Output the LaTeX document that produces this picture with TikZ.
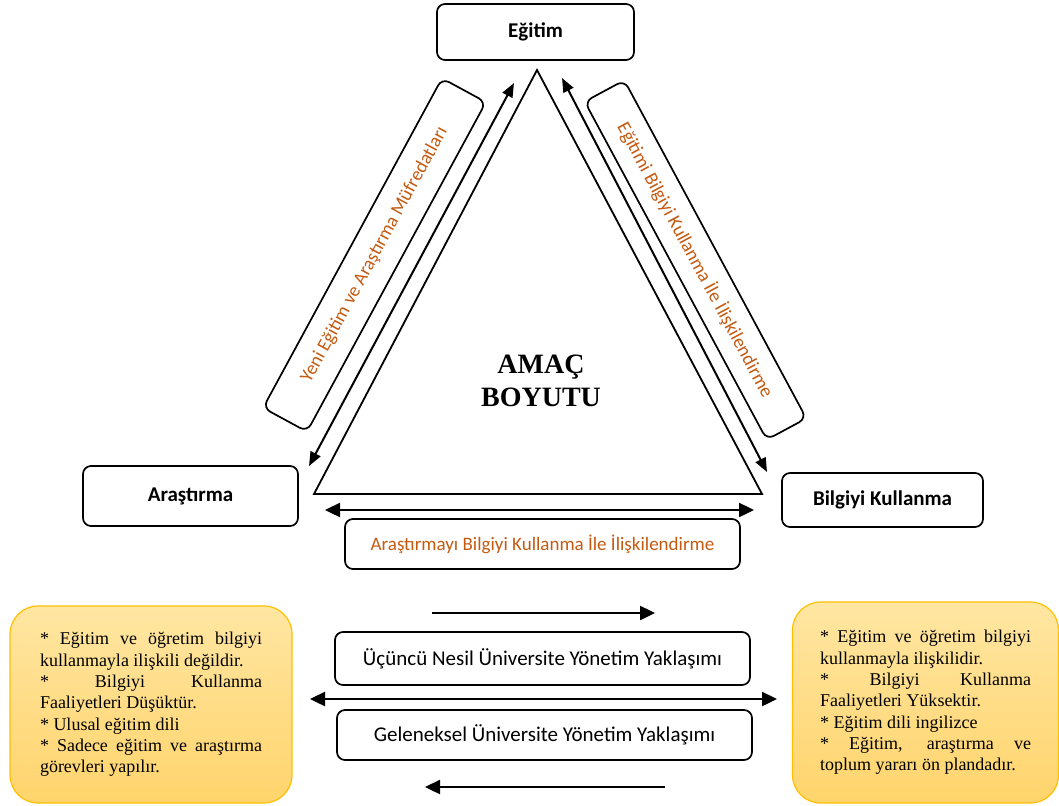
\documentclass[tikz,border=0pt]{standalone}
\usepackage{fontspec}
\setmainfont{Liberation Serif}
\newfontfamily\calibrifont{Carlito}
\usetikzlibrary{arrows.meta}
\definecolor{labelorange}{RGB}{197,90,17}
\definecolor{notegold}{RGB}{255,192,0}
\definecolor{notetop}{RGB}{255,230,162}
\definecolor{notebottom}{RGB}{255,212,108}
\newcommand\notefont{\fontsize{18}{21.3}\selectfont\tolerance=10000 \hyphenpenalty=10000 }

\begin{document}
\begin{tikzpicture}[x=1pt, y=-1pt,
  corner/.style={draw, line width=1.7pt, rounded corners=8pt,
    font=\calibrifont\bfseries\fontsize{21}{24}\selectfont},
  relbox/.style={draw, line width=1.7pt, rounded corners=8pt, text=labelorange,
    font=\calibrifont\fontsize{19}{22}\selectfont},
  modelbox/.style={draw, line width=1.7pt, rounded corners=8pt,
    minimum width=415pt, font=\calibrifont\fontsize{21}{24}\selectfont},
  notebox/.style={draw=notegold, line width=1.2pt, rounded corners=28pt,
    top color=notetop, bottom color=notebottom, inner sep=0pt},
  notetext/.style={text width=#1, align=justify, font=\notefont},
  link/.style={line width=2pt, {Triangle[length=14pt,width=11pt]}-{Triangle[length=14pt,width=11pt]}},
  flow/.style={line width=2.4pt, -{Triangle[length=15pt,width=14pt]}}]
  \useasboundingbox (0,0) rectangle (1059,805);

  % corners of the triangle
  \node[corner, minimum width=197pt, minimum height=56pt] (egitim) at (535.5,32) {Eğitim};
  \node[corner, minimum width=215pt, minimum height=60pt] (arastirma) at (190.5,496) {Araştırma};
  \node[corner, minimum width=201pt, minimum height=54pt] (kullanma) at (882.5,500) {Bilgiyi Kullanma};

  \coordinate (tri top) at (537,70);
  \coordinate (tri left) at (314,494);
  \coordinate (tri right) at (762,494);
  \draw[line width=1.8pt, line join=miter] (tri top) -- (tri left) -- (tri right) -- cycle;
  \node[font=\bfseries\fontsize{28}{33}\selectfont, align=center] (amac) at (541,381) {AMAÇ\\BOYUTU};

  % relations along the sides
  \coordinate (left low) at (309,466);
  \coordinate (left high) at (514,83);
  \coordinate (right high) at (562,78);
  \coordinate (right low) at (767,472);
  \coordinate (base left) at (325,510);
  \coordinate (base right) at (754,510);
  \draw[link] (left low) -- (left high);
  \draw[link] (right high) -- (right low);
  \draw[link, line width=2.4pt, {Triangle[length=15pt,width=14pt]}-{Triangle[length=15pt,width=14pt]}] (base left) -- (base right);

  \node[relbox, rotate=61.5, minimum width=375pt, minimum height=50pt] (mufredat) at (374.5,255)
    {Yeni Eğitim ve Araştırma Müfredatları};
  \node[relbox, rotate=-61.7, minimum width=384pt, minimum height=45pt] (egitimkullanma) at (695.5,260)
    {Eğitimi Bilgiyi Kullanma İle İlişkilendirme};
  \node[relbox, minimum width=395pt, minimum height=50pt] (arastirmakullanma) at (542.5,544)
    {Araştırmayı Bilgiyi Kullanma İle İlişkilendirme};

  % management approaches
  \coordinate (ahead from) at (432,613);
  \coordinate (ahead to) at (655,613);
  \coordinate (back from) at (665,787);
  \coordinate (back to) at (425,787);
  \coordinate (span left) at (310,699);
  \coordinate (span right) at (777,699);
  \draw[flow] (ahead from) -- (ahead to);
  \draw[flow] (back from) -- (back to);
  \draw[flow, {Triangle[length=15pt,width=14pt]}-{Triangle[length=15pt,width=14pt]}] (span left) -- (span right);

  \node[modelbox, minimum height=53pt] (ucuncu) at (542.5,658.5) {Üçüncü Nesil Üniversite Yönetim Yaklaşımı};
  \node[modelbox, minimum height=50pt] (geleneksel) at (544.5,735) {Geleneksel Üniversite Yönetim Yaklaşımı};

  % notes
  \node[notebox, notetext=222pt, minimum width=282pt, minimum height=197pt] (eski) at (151,704.5)
    {{*} Eğitim ve öğretim bilgiyi\linebreak kullanmayla ilişkili değildir.\\
     {*} Bilgiyi Kullanma\linebreak Faaliyetleri Düşüktür.\\
     {*} Ulusal eğitim dili\\
     {*} Sadece eğitim ve araştırma\linebreak görevleri yapılır.};
  \node[notebox, notetext=211pt, minimum width=266pt, minimum height=201pt] (yeni) at (925.5,702.5)
    {{*} Eğitim ve öğretim bilgiyi\linebreak kullanmayla ilişkilidir.\\
     {*} Bilgiyi Kullanma\linebreak Faaliyetleri Yüksektir.\\
     {*} Eğitim dili ingilizce\\
     {*} Eğitim, araştırma ve\linebreak toplum yararı ön plandadır.};
\end{tikzpicture}
\end{document}
